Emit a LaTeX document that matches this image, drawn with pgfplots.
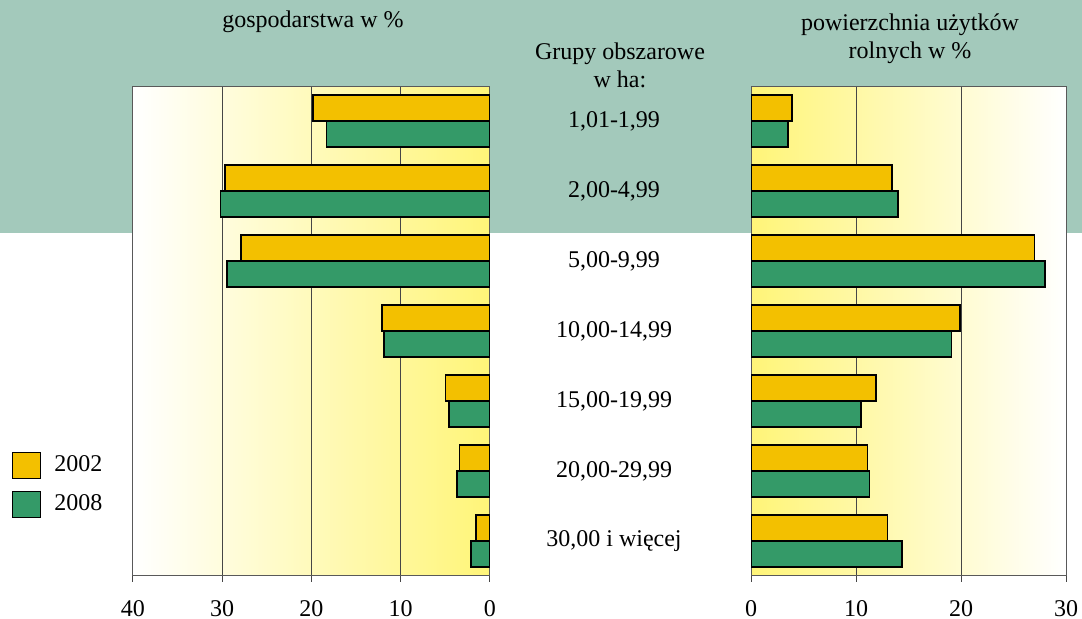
\documentclass[border=0pt]{standalone}
\usepackage{pgfplots}
\pgfplotsset{compat=1.18}
\usepackage{fontspec}
\setmainfont{Liberation Serif}
\definecolor{band}{RGB}{163,201,187}
\definecolor{bary}{RGB}{243,192,0}
\definecolor{barg}{RGB}{52,154,104}
\definecolor{gold}{RGB}{255,245,120}
\definecolor{gridc}{RGB}{70,70,70}

\pgfplotsset{
  common/.style={
    xbar, scale only axis,
    bar width=13pt,
    ymin=0.5, ymax=7.5,
    xmajorgrids,
    grid style={gridc, line width=0.5pt},
    axis line style={gray!70!black, line width=0.5pt},
    tick align=outside,
    xtick pos=bottom,
    major tick length=3pt,
    x tick style={gridc, line width=0.5pt},
    y tick style={draw=none},
    tick label style={font=\fontsize{12}{14}\selectfont},
    /pgf/number format/assume math mode=true,
    xticklabel style={yshift=-5pt, inner xsep=0pt},
  },
  y2002/.style={fill=bary, draw=black, line width=0.8pt, bar shift=6.5pt},
  y2008/.style={fill=barg, draw=black, line width=0.8pt, bar shift=-6.5pt},
}

\begin{document}
\fontsize{12}{14}\selectfont
\begin{tikzpicture}
\begin{scope}[x=0.5pt,y=-0.5pt]
  \fill[white] (0,0) rectangle (1082,619);
  \fill[band] (0,0) rectangle (1082,233);
  \node at (313,22) {gospodarstwa w \%};
  \node[align=center] at (910,39) {powierzchnia użytków\\rolnych w \%};
  \node[align=center] at (620,65) {Grupy obszarowe\\w ha:};
\end{scope}

% left: gospodarstwa
\begin{axis}[common,
  at={(66.5pt,-288pt)}, anchor=south west,
  width=178.5pt, height=245pt,
  x dir=reverse, xmin=0, xmax=40, xtick={0,10,...,40},
  ytick=\empty,
  axis background/.style={left color=white, right color=gold},
  legend style={at={(axis description cs:-0.339,0.255)}, anchor=north west,
    draw=none, fill=none, inner sep=0pt, row sep=6pt,
    font=\fontsize{12}{14}\selectfont,
    /tikz/every odd column/.append style={column sep=4.5pt}},
  legend cell align=left,
  legend image code/.code={\draw[#1, line width=0.5pt] (0pt,-6.5pt) rectangle (14pt,6.5pt);},
]
\addplot[y2002] coordinates {(19.8,7) (29.7,6) (27.9,5) (12.1,4) (5.0,3) (3.4,2) (1.6,1)};
\addplot[y2008] coordinates {(18.3,7) (30.2,6) (29.5,5) (11.9,4) (4.6,3) (3.7,2) (2.1,1)};
\legend{2002,2008}
\end{axis}

% right: powierzchnia
\begin{axis}[common,
  at={(375.5pt,-288pt)}, anchor=south west,
  width=157.5pt, height=245pt,
  xmin=0, xmax=30, xtick={0,10,20,30},
  ytick={1,...,7},
  yticklabels={{30,00 i więcej},{20,00-29,99},{15,00-19,99},{10,00-14,99},{5,00-9,99},{2,00-4,99},{1,01-1,99}},
  yticklabel style={anchor=center, xshift=-65.5pt},
  axis background/.style={left color=gold, right color=white},
]
\addplot[y2002] coordinates {(3.9,7) (13.4,6) (27.0,5) (19.9,4) (11.9,3) (11.1,2) (13.0,1)};
\addplot[y2008] coordinates {(3.5,7) (14.0,6) (28.0,5) (19.1,4) (10.5,3) (11.3,2) (14.4,1)};
\end{axis}
\pgfresetboundingbox
\path[use as bounding box] (0pt,0pt) rectangle (541pt,-309.5pt);
\end{tikzpicture}
\end{document}
